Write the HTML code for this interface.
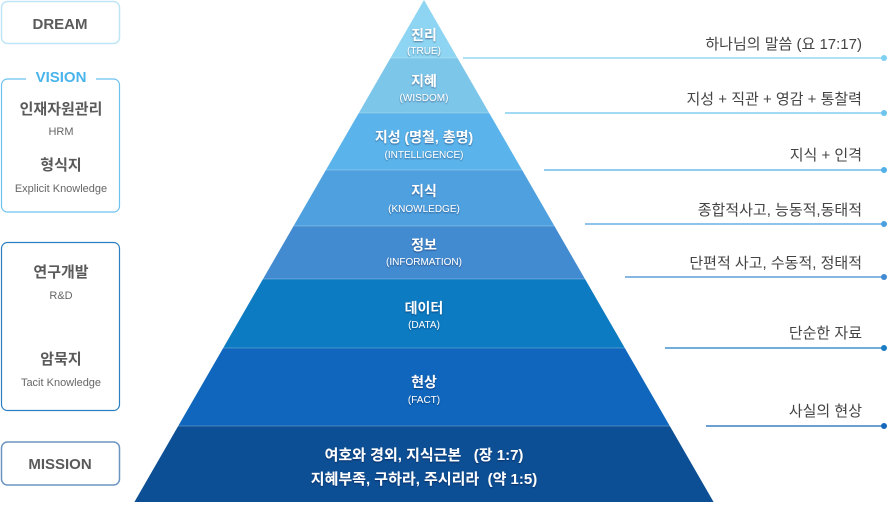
<!DOCTYPE html>
<html><head><meta charset="utf-8"><style>
body{margin:0;width:888px;height:504px;background:#fff;overflow:hidden;font-family:"Liberation Sans","Noto Sans CJK KR",sans-serif}
svg text{font-family:"Liberation Sans","Noto Sans CJK KR",sans-serif}
</style></head><body>
<svg width="888" height="504" viewBox="0 0 888 504">
<defs><filter id="sh"><feDropShadow dx="0" dy="1" stdDeviation="0.8" flood-color="#003" flood-opacity="0.45"/></filter></defs>
<rect x="1.5" y="1.5" width="118" height="42" rx="6" fill="#fff" stroke="#bfe6f6" stroke-width="1.5"/>
<text x="60" y="29" text-anchor="middle" font-size="15" font-weight="bold" fill="#5a5a5a">DREAM</text>
<rect x="1.5" y="79" width="118" height="133" rx="6" fill="#fff" stroke="#6cc2ef" stroke-width="1.2"/>
<rect x="26" y="70" width="70" height="14" fill="#fff"/>
<text x="61" y="82" text-anchor="middle" font-size="15" font-weight="bold" fill="#4ab4ec">VISION</text>
<text x="61" y="114" text-anchor="middle" font-size="15" font-weight="bold" fill="#5a5a5a">인재자원관리</text>
<text x="61" y="135" text-anchor="middle" font-size="11" fill="#666">HRM</text>
<text x="61" y="170" text-anchor="middle" font-size="15" font-weight="bold" fill="#5a5a5a">형식지</text>
<text x="61" y="192" text-anchor="middle" font-size="11" fill="#666">Explicit Knowledge</text>
<rect x="1.5" y="242.5" width="118" height="168" rx="6" fill="#fff" stroke="#2c7fc1" stroke-width="1.2"/>
<text x="61" y="277" text-anchor="middle" font-size="15" font-weight="bold" fill="#5a5a5a">연구개발</text>
<text x="61" y="299" text-anchor="middle" font-size="11" fill="#666">R&amp;D</text>
<text x="61" y="364" text-anchor="middle" font-size="15" font-weight="bold" fill="#5a5a5a">암묵지</text>
<text x="61" y="386" text-anchor="middle" font-size="11" fill="#666">Tacit Knowledge</text>
<rect x="1.5" y="442" width="118" height="43" rx="6" fill="#fff" stroke="#6b95c0" stroke-width="1.5"/>
<text x="60" y="469" text-anchor="middle" font-size="15" font-weight="bold" fill="#5a5a5a">MISSION</text>
<g>
<polygon points="424,0 457.5,58 390.5,58" fill="#8dd5f2"/>
<polygon points="390.5,58 457.5,58 489.2,113 358.8,113" fill="#7cc6ea"/>
<polygon points="358.8,113 489.2,113 522.1,170 325.9,170" fill="#5ab3ea"/>
<polygon points="325.9,170 522.1,170 554.4,226 293.6,226" fill="#4ea0df"/>
<polygon points="293.6,226 554.4,226 585,279 263,279" fill="#438bd0"/>
<polygon points="263,279 585,279 624.8,348 223.2,348" fill="#0c7bc2"/>
<polygon points="223.2,348 624.8,348 669.8,426 178.2,426" fill="#0f66bc"/>
<polygon points="178.2,426 669.8,426 713.6,502 134.4,502" fill="#0d4f94"/>
</g>
<g stroke="#ffffff" stroke-opacity="0.25" stroke-width="1">
<line x1="390" y1="58" x2="458" y2="58"/><line x1="358" y1="113" x2="490" y2="113"/>
<line x1="326" y1="170" x2="522" y2="170"/><line x1="294" y1="226" x2="554" y2="226"/>
<line x1="263" y1="279" x2="585" y2="279"/><line x1="223" y1="348" x2="625" y2="348"/>
<line x1="178" y1="426" x2="670" y2="426"/>
</g>
<g fill="#fff" text-anchor="middle" filter="url(#sh)">
<text x="424" y="40" font-size="14" font-weight="bold">진리</text>
<text x="424" y="54" font-size="10">(TRUE)</text>
<text x="424" y="86" font-size="14" font-weight="bold">지혜</text>
<text x="424" y="101" font-size="10">(WISDOM)</text>
<text x="424" y="142" font-size="14" font-weight="bold">지성 (명철, 총명)</text>
<text x="424" y="158" font-size="10">(INTELLIGENCE)</text>
<text x="424" y="196" font-size="14" font-weight="bold">지식</text>
<text x="424" y="212" font-size="10">(KNOWLEDGE)</text>
<text x="424" y="250" font-size="14" font-weight="bold">정보</text>
<text x="424" y="265" font-size="10">(INFORMATION)</text>
<text x="424" y="313" font-size="14" font-weight="bold">데이터</text>
<text x="424" y="328" font-size="10">(DATA)</text>
<text x="424" y="387" font-size="14" font-weight="bold">현상</text>
<text x="424" y="403" font-size="10">(FACT)</text>
<text x="424" y="460" font-size="15" font-weight="bold">여호와 경외, 지식근본 &#160; (장 1:7)</text>
<text x="424" y="484" font-size="15" font-weight="bold">지혜부족, 구하라, 주시리라 &#160;(약 1:5)</text>
</g>
<g stroke-width="1.2">
<line x1="463" y1="58" x2="884" y2="58" stroke="#7fd0f1"/>
<line x1="505" y1="113" x2="884" y2="113" stroke="#6cc3ec"/>
<line x1="544" y1="170" x2="884" y2="170" stroke="#52afe8"/>
<line x1="585" y1="224" x2="884" y2="224" stroke="#4a9fdf"/>
<line x1="625" y1="277" x2="884" y2="277" stroke="#3f8ad0"/>
<line x1="665" y1="348" x2="884" y2="348" stroke="#1a7cc4"/>
<line x1="706" y1="426" x2="884" y2="426" stroke="#1568ba"/>
</g>
<circle cx="884" cy="58" r="3" fill="#7fd0f1"/>
<circle cx="884" cy="113" r="3" fill="#6cc3ec"/>
<circle cx="884" cy="170" r="3" fill="#52afe8"/>
<circle cx="884" cy="224" r="3" fill="#4a9fdf"/>
<circle cx="884" cy="277" r="3" fill="#3f8ad0"/>
<circle cx="884" cy="348" r="3" fill="#1a7cc4"/>
<circle cx="884" cy="426" r="3" fill="#1568ba"/>
<g fill="#444" font-size="15" text-anchor="end">
<text x="862" y="49">하나님의 말씀 (요 17:17)</text>
<text x="862" y="104">지성 + 직관 + 영감 + 통찰력</text>
<text x="862" y="160">지식 + 인격</text>
<text x="862" y="215">종합적사고, 능동적,동태적</text>
<text x="862" y="268">단편적 사고, 수동적, 정태적</text>
<text x="862" y="338">단순한 자료</text>
<text x="862" y="416">사실의 현상</text>
</g>
</svg>
</body></html>
